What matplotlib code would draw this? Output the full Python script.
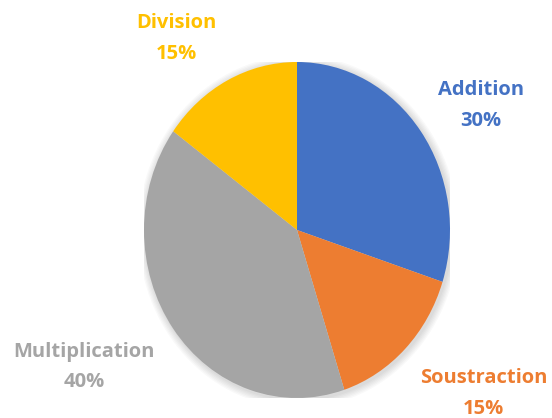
"""Pie chart of the four arithmetic operations (Excel style)."""

import matplotlib
matplotlib.use("Agg")
import matplotlib.pyplot as plt
from matplotlib.patches import Ellipse

# ---------------------------------------------------------------------------
# Data
# ---------------------------------------------------------------------------
categories = ["Addition", "Soustraction", "Multiplication", "Division"]
shares = [30, 15, 40, 15]
colors = ["#4472C4", "#ED7D31", "#A5A5A5", "#FFC000"]

# label centres in data units (pie radius = 1)
label_pos = [(1.20, 0.74), (1.22, -0.975), (-1.39, -0.815), (-0.79, 1.14)]

W, H = 552, 418
plt.rcParams["font.family"] = ["Open Sans", "DejaVu Sans"]

fig = plt.figure(figsize=(W / 100, H / 100), dpi=100)
# the pie is slightly stretched vertically in the reference
ax = fig.add_axes([144 / W, 20 / H, 306 / W, 336 / H])
ax.axis("off")

# soft shadow
for k in range(6):
    r = 1.0 + 0.008 * (k + 1)
    ax.add_patch(Ellipse((0.01, -0.01), 2 * r, 2 * r, color="black",
                         alpha=0.025, lw=0, zorder=0))

wedges, _ = ax.pie(shares, colors=colors, startangle=90, counterclock=False,
                   radius=1.0, wedgeprops=dict(linewidth=0))
for w in wedges:
    w.set_zorder(2)
ax.set_xlim(-1, 1)
ax.set_ylim(-1, 1)
ax.set_aspect("auto")

for name, val, col, (x, y) in zip(categories, shares, colors, label_pos):
    ax.text(x, y, f"{name}\n{val}%", color=col, fontsize=14.5,
            fontweight="bold", ha="center", va="center",
            linespacing=1.72, clip_on=False)

fig.savefig("out.png", dpi=100)
